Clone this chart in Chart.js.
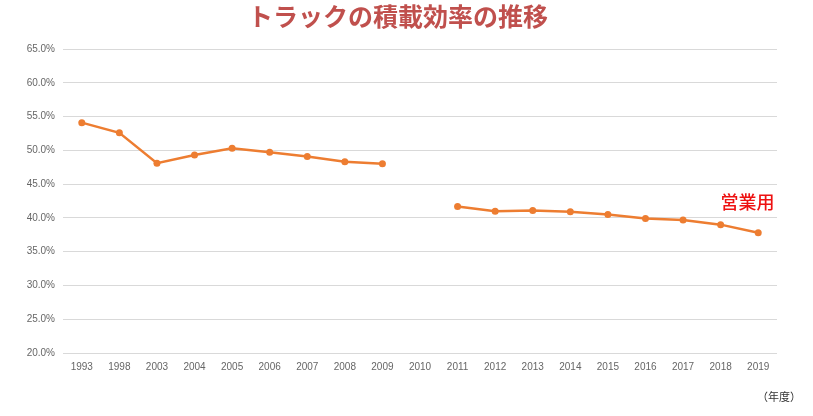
<!DOCTYPE html>
<html>
<head>
<meta charset="utf-8">
<script src="https://cdn.jsdelivr.net/npm/chart.js@4"></script>
<style>
  html, body { margin: 0; padding: 0; background: #fff; }
  #wrap { width: 813px; height: 416px; }
</style>
</head>
<body>
<div id="wrap"><canvas id="grafica" width="813" height="416"></canvas></div>
<script>
const anios = ["1993", "1998", "2003", "2004", "2005", "2006", "2007", "2008", "2009", "2010",
  "2011", "2012", "2013", "2014", "2015", "2016", "2017", "2018", "2019"];
const eficiencia = [54.1, 52.6, 48.1, 49.3, 50.3, 49.7, 49.1, 48.3, 48.0, null,
  41.7, 41.0, 41.1, 40.9, 40.5, 39.9, 39.7, 39.0, 37.8];
const ejeMin = 20;
const ejeMax = 65;
const ejePaso = 5;

const titulo = "トラックの積載効率の推移";
const etiquetaSerie = "営業用";
const unidadX = "（年度）";

// textos sueltos: titulo, etiqueta de la serie y unidad del eje X
const textos = {
  id: "textos",
  afterDraw(chart) {
    const ctx = chart.ctx;
    const x = chart.scales.x;
    const y = chart.scales.y;
    ctx.save();
    ctx.textAlign = "center";
    ctx.textBaseline = "middle";
    ctx.fillStyle = "#c0504d";
    ctx.font = "bold 25px 'Noto Sans CJK JP'";
    ctx.fillText(titulo, 398, 16);

    ctx.fillStyle = "#ee1111";
    ctx.font = "500 18px 'Noto Sans CJK JP'";
    ctx.fillText(etiquetaSerie, (x.getPixelForValue(17) + x.getPixelForValue(18)) / 2 + 8, y.getPixelForValue(42.3));

    ctx.fillStyle = "#333";
    ctx.font = "11px 'Noto Sans CJK JP'";
    ctx.fillText(unidadX, 779, 397);
    ctx.restore();
  }
};

new Chart(document.getElementById("grafica"), {
  type: "line",
  data: {
    labels: anios,
    datasets: [{
      label: etiquetaSerie,
      data: eficiencia,
      borderColor: "#ed7d31",
      backgroundColor: "#ed7d31",
      borderWidth: 2.5,
      pointRadius: 3.5,
      pointBorderWidth: 0,
      spanGaps: false,
      tension: 0
    }]
  },
  options: {
    responsive: false,
    animation: false,
    layout: { padding: { top: 49, right: 36, bottom: 35, left: 0 } },
    plugins: {
      legend: { display: false },
      tooltip: { enabled: false }
    },
    scales: {
      x: {
        offset: true,
        grid: { display: false, drawTicks: false },
        border: { display: false },
        ticks: {
          color: "#666",
          font: { family: "Liberation Sans", size: 10 },
          padding: 8,
          maxRotation: 0,
          autoSkip: false
        }
      },
      y: {
        min: ejeMin,
        max: ejeMax,
        afterFit(scale) { scale.width = 63; },
        grid: { color: "#d9d9d9", lineWidth: 1, drawTicks: false },
        border: { display: false },
        ticks: {
          stepSize: ejePaso,
          color: "#666",
          font: { family: "Liberation Sans", size: 10 },
          padding: 8,
          callback: v => v.toFixed(1) + "%"
        }
      }
    }
  },
  plugins: [textos]
});
</script>
</body>
</html>
